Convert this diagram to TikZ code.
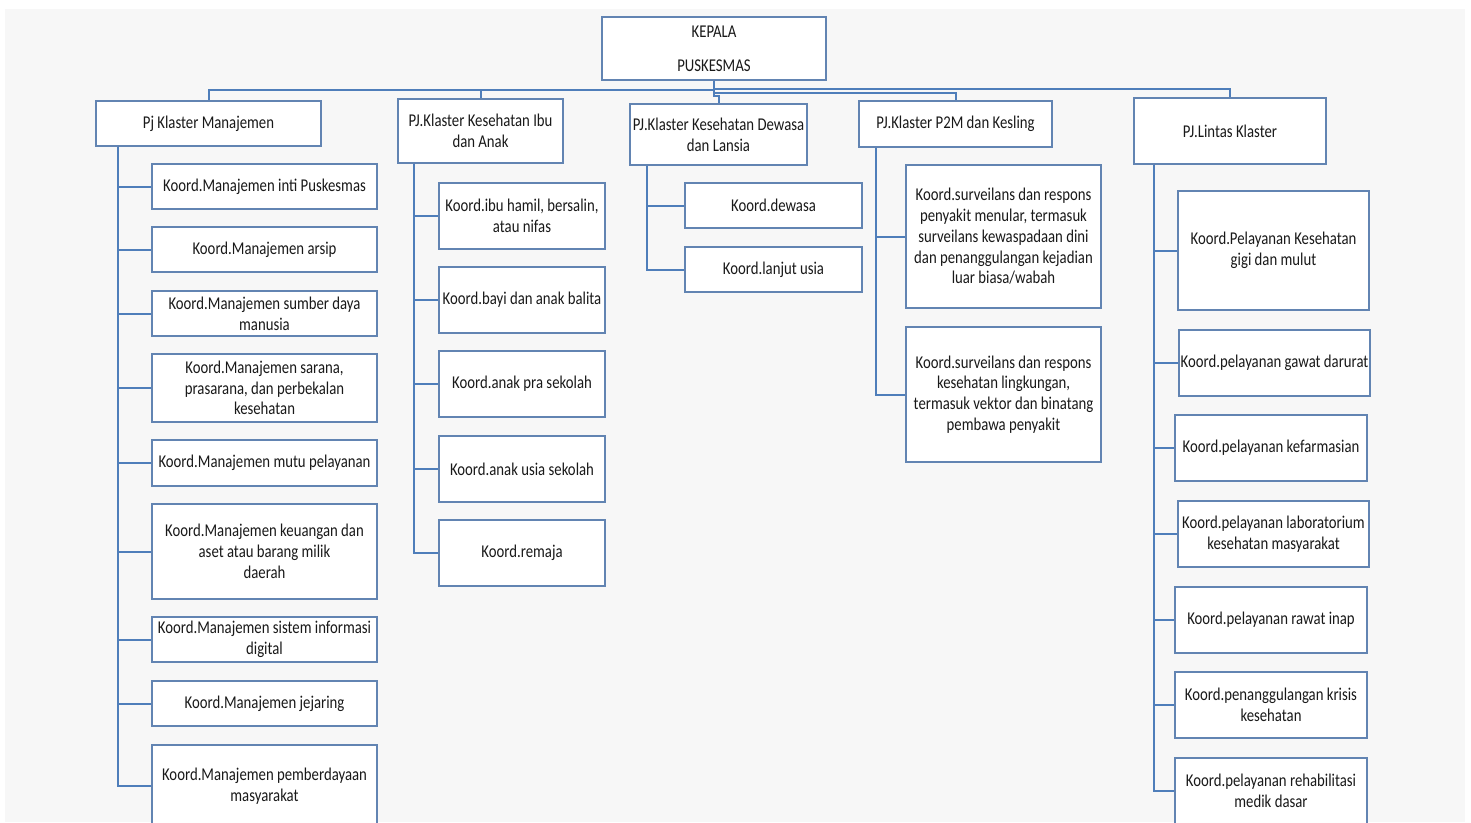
\documentclass[tikz,border=0pt]{standalone}
\usepackage{fontspec}
\setmainfont[FakeStretch=0.82]{Carlito}
\definecolor{boxc}{RGB}{98,132,178}
\definecolor{linec}{RGB}{79,126,186}
\definecolor{panel}{RGB}{247,247,247}
\definecolor{txtc}{RGB}{25,25,25}
\tikzset{
  bx/.style={draw=boxc, line width=1.6pt, fill=white, inner sep=0pt, align=center,
    font=\fontsize{18}{20.8}\selectfont, text=txtc},
  ln/.style={draw=linec, line width=2pt}
}
\newcommand{\orgbox}[6]{%
  \pgfmathsetmacro{\obw}{#4-#2}\pgfmathsetmacro{\obh}{#5-#3}%
  \pgfmathsetmacro{\obx}{(#2+#4)/2}\pgfmathsetmacro{\oby}{(#3+#5)/2}%
  \node[bx, minimum width=\obw pt, minimum height=\obh pt] (#1) at (\obx,\oby) {#6};}
\begin{document}
\begin{tikzpicture}[x=1pt,y=-1pt]
\path[use as bounding box] (0,0) rectangle (1471,822);
\clip (0,0) rectangle (1471,822);
\fill[white] (0,0) rectangle (1471,822);
\fill[panel] (5,9) rectangle (1465,822);

% top
\orgbox{kp}{602}{17}{826}{80}{KEPALA\\[13pt]PUSKESMAS}
% level 1
\orgbox{pjm}{96}{101}{321}{146}{Pj Klaster Manajemen}
\orgbox{pji}{398}{99}{563}{163}{PJ.Klaster Kesehatan Ibu\\dan Anak}
\orgbox{pjd}{630}{104}{807}{165}{PJ.Klaster Kesehatan Dewasa\\dan Lansia}
\orgbox{pjp}{859}{101}{1052}{147}{PJ.Klaster P2M dan Kesling}
\orgbox{pjl}{1134}{98}{1326}{164}{PJ.Lintas Klaster}

% column 1
\orgbox{m1}{152}{164}{377}{209}{Koord.Manajemen inti Puskesmas}
\orgbox{m2}{152}{227}{377}{272}{Koord.Manajemen arsip}
\orgbox{m3}{152}{291}{377}{336}{Koord.Manajemen sumber daya\\manusia}
\orgbox{m4}{152}{354}{377}{422}{Koord.Manajemen sarana,\\prasarana, dan perbekalan\\kesehatan}
\orgbox{m5}{152}{440}{377}{486}{Koord.Manajemen mutu pelayanan}
\orgbox{m6}{152}{504}{377}{599}{Koord.Manajemen keuangan dan\\aset atau barang milik\\daerah}
\orgbox{m7}{152}{617}{377}{662}{Koord.Manajemen sistem informasi\\digital}
\orgbox{m8}{152}{681}{377}{726}{Koord.Manajemen jejaring}
\orgbox{m9}{152}{745}{377}{827}{Koord.Manajemen pemberdayaan\\masyarakat}

% column 2
\orgbox{i1}{439}{183}{605}{249}{Koord.ibu hamil, bersalin,\\atau nifas}
\orgbox{i2}{439}{267}{605}{333}{Koord.bayi dan anak balita}
\orgbox{i3}{439}{351}{605}{417}{Koord.anak pra sekolah}
\orgbox{i4}{439}{436}{605}{502}{Koord.anak usia sekolah}
\orgbox{i5}{439}{520}{605}{586}{Koord.remaja}

% column 3
\orgbox{d1}{685}{183}{862}{228}{Koord.dewasa}
\orgbox{d2}{685}{247}{862}{292}{Koord.lanjut usia}

% column 4
\orgbox{p1}{906}{165}{1101}{308}{Koord.surveilans dan respons\\penyakit menular, termasuk\\surveilans kewaspadaan dini\\dan penanggulangan kejadian\\luar biasa/wabah}
\orgbox{p2}{906}{327}{1101}{462}{Koord.surveilans dan respons\\kesehatan lingkungan,\\termasuk vektor dan binatang\\pembawa penyakit}

% column 5
\orgbox{l1}{1178}{191}{1369}{310}{Koord.Pelayanan Kesehatan\\gigi dan mulut}
\orgbox{l2}{1179}{330}{1370}{396}{\makebox[0pt][c]{Koord.pelayanan gawat darurat}}
\orgbox{l3}{1175}{415}{1367}{481}{Koord.pelayanan kefarmasian}
\orgbox{l4}{1178}{501}{1369}{567}{Koord.pelayanan laboratorium\\kesehatan masyarakat}
\orgbox{l5}{1175}{587}{1367}{653}{Koord.pelayanan rawat inap}
\orgbox{l6}{1175}{672}{1367}{738}{Koord.penanggulangan krisis\\kesehatan}
\orgbox{l7}{1175}{758}{1367}{824}{Koord.pelayanan rehabilitasi\\medik dasar}

% connectors from top
\draw[ln] (kp.south) -- ++(0,9) -| (pjm.north);
\draw[ln] (kp.south) -- ++(0,9) -| (pji.north);
\draw[ln] (kp.south) -- ++(0,15) -| (pjd.north);
\draw[ln] (kp.south) -- ++(0,12) -| (pjp.north);
\draw[ln] (kp.south) -- ++(0,8) -| (pjl.north);

% column trunks
\foreach \c in {m1,m2,m3,m4,m5,m6,m7,m8,m9}
  \draw[ln] ([xshift=23pt]pjm.south west) |- (\c.west);
\foreach \c in {i1,i2,i3,i4,i5}
  \draw[ln] ([xshift=17pt]pji.south west) |- (\c.west);
\foreach \c in {d1,d2}
  \draw[ln] ([xshift=18pt]pjd.south west) |- (\c.west);
\foreach \c in {p1,p2}
  \draw[ln] ([xshift=18pt]pjp.south west) |- (\c.west);
\foreach \c in {l1,l2,l3,l4,l5,l6,l7}
  \draw[ln] ([xshift=21pt]pjl.south west) |- (\c.west);
\end{tikzpicture}
\end{document}
